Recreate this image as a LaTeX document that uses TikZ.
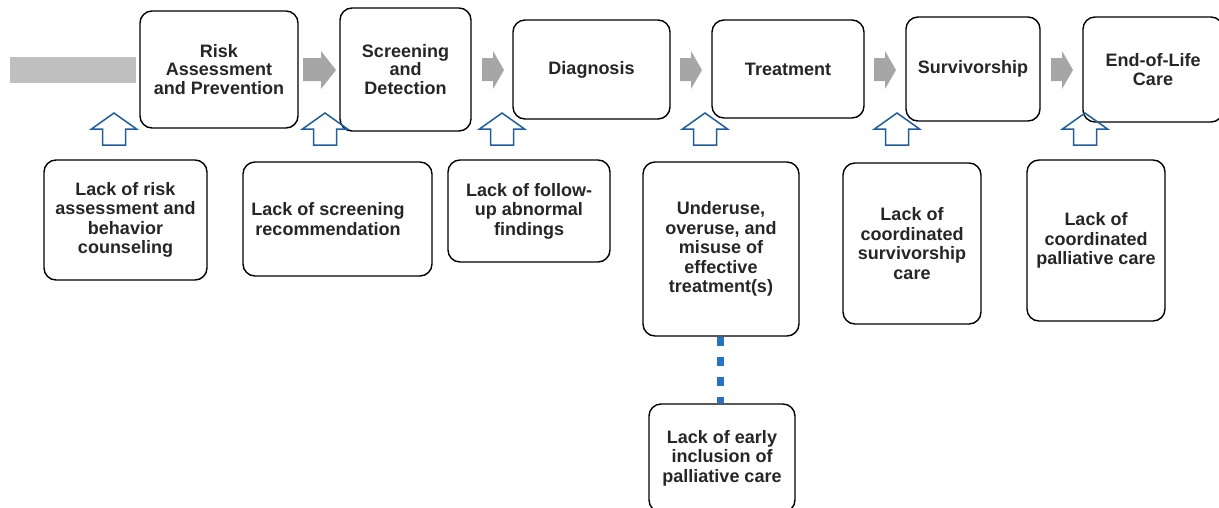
\documentclass[tikz,border=0pt]{standalone}
\usepackage{fontspec}
\setmainfont{Liberation Sans}
\definecolor{txtc}{HTML}{262626}
\definecolor{barc}{HTML}{BFBFBF}
\definecolor{arrc}{HTML}{A6A6A6}
\definecolor{bluec}{HTML}{1F5E9E}
\definecolor{dotc}{HTML}{2672C4}
\begin{document}
\begin{tikzpicture}[x=1pt,y=-1pt,
  stagebox/.style={draw=black,line width=1.4pt,rounded corners=12pt,fill=white,inner sep=0pt,
    text=txtc,align=center,font=\fontsize{18}{18.5}\selectfont\bfseries},
  gapbox/.style={draw=black,line width=1.4pt,rounded corners=12pt,fill=white,inner sep=0pt,
    text=txtc,align=center,font=\fontsize{18}{19.5}\selectfont\bfseries},
  gaptxt/.style={inner sep=0pt,text=txtc,align=center,font=\fontsize{18}{19.5}\selectfont\bfseries},
  uparr/.pic={\draw[bluec,line width=1.5pt,line join=miter]
    (0,0)--(22.5,16)--(11.5,16)--(11.5,32)--(-11.5,32)--(-11.5,16)--(-22.5,16)--cycle;},
  garrow/.style={fill=arrc,draw=none}
]
\useasboundingbox (0,0) rectangle (1219,507);
% gray lead-in bar
\node[fill=barc,minimum width=126pt,minimum height=26pt,inner sep=0pt] (bar) at (73,70) {};
% top stage boxes
\node[stagebox,minimum width=158pt,minimum height=117pt] (t1) at (219,69.5) {Risk\\Assessment\\and Prevention};
\node[stagebox,minimum width=131pt,minimum height=123pt] (t2) at (405.5,69.5) {Screening\\and\\Detection};
\node[stagebox,minimum width=157pt,minimum height=99pt] (t3) at (591.5,69.5) {Diagnosis};
\node[stagebox,minimum width=152pt,minimum height=98pt] (t4) at (788,69) {Treatment};
\node[stagebox,minimum width=134pt,minimum height=104pt] (t5) at (973,69) {Survivorship};
\node[stagebox,minimum width=140pt,minimum height=105pt] (t6) at (1153,69.5) {End-of-Life\\Care};
% gray flow arrows
\fill[garrow] (303,58)--(321,58)--(321,51)--(336,70)--(321,89)--(321,81)--(303,81)--cycle;
\foreach \s in {482,680,874,1051}{
  \fill[garrow] (\s,58)--(\s+11,58)--(\s+11,51)--(\s+22,70)--(\s+11,89)--(\s+11,81)--(\s,81)--cycle;
}
% blue up arrows
\foreach \cx/\nm in {114/a1,325/a2,502/a3,705/a4,897/a5,1085/a6}{
  \coordinate (\nm) at (\cx,113);
  \pic at (\nm) {uparr};
}
% bottom gap boxes
\node[gapbox,minimum width=163pt,minimum height=120pt] (b1) at (125.5,220) {Lack of risk\\assessment and\\behavior\\counseling};
\node[gapbox,minimum width=189pt,minimum height=114pt] (b2) at (337.5,219) {};
\node[gaptxt] (b2t) at (328,219) {Lack of screening\\recommendation};
\node[gapbox,minimum width=162pt,minimum height=102pt] (b3) at (529,211) {Lack of follow-\\up abnormal\\findings};
\node[gapbox,minimum width=156pt,minimum height=174pt] (b4) at (721,249) {Underuse,\\overuse, and\\misuse of\\effective\\treatment(s)};
\node[gapbox,minimum width=138pt,minimum height=161pt] (b5) at (912,243.5) {Lack of\\coordinated\\survivorship\\care};
\node[gapbox,minimum width=138pt,minimum height=161pt] (b6) at (1096,240.5) {Lack of\\coordinated\\palliative care};
\node[gapbox,minimum width=146pt,minimum height=108pt] (b7) at (722,458) {Lack of early\\inclusion of\\palliative care};
% dotted connector
\draw[dotc,line width=7pt,line cap=butt,dash pattern=on 9pt off 11pt] ([xshift=-1pt]b4.south) -- ([xshift=-2pt]b7.north);
\end{tikzpicture}
\end{document}
